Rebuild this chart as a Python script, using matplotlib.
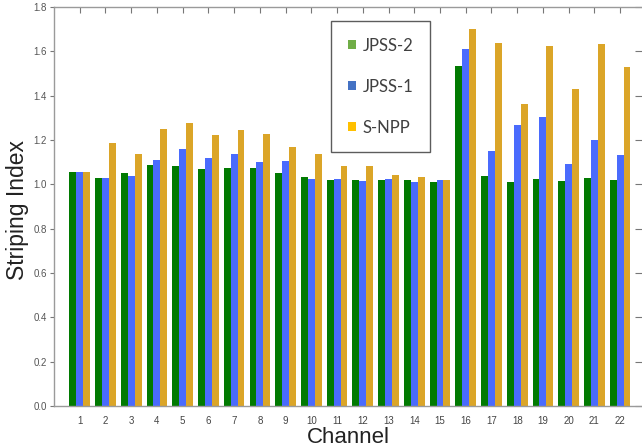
import matplotlib
matplotlib.use("Agg")
import matplotlib.pyplot as plt
from matplotlib.patches import Patch
from matplotlib import font_manager
import numpy as np

channels = list(range(1, 23))
jpss2 = [1.055, 1.028, 1.051, 1.086, 1.083, 1.069, 1.074, 1.072, 1.051, 1.033, 1.018,
         1.021, 1.018, 1.018, 1.010, 1.534, 1.036, 1.009, 1.024, 1.016, 1.030, 1.019]
jpss1 = [1.055, 1.028, 1.036, 1.111, 1.161, 1.117, 1.138, 1.099, 1.104, 1.023, 1.024,
         1.016, 1.024, 1.009, 1.018, 1.609, 1.150, 1.266, 1.302, 1.093, 1.200, 1.132]
snpp = [1.055, 1.188, 1.135, 1.248, 1.278, 1.221, 1.244, 1.227, 1.170, 1.137, 1.083,
        1.081, 1.042, 1.032, 1.018, 1.699, 1.639, 1.361, 1.622, 1.430, 1.631, 1.528]
series_names = ["JPSS-2", "JPSS-1", "S-NPP"]
yticks = [0.0, 0.2, 0.4, 0.6, 0.8, 1.0, 1.2, 1.4, 1.6, 1.8]

bar_colors = ["#017a01", "#4a6bfd", "#dba528"]
legend_colors = ["#70ad47", "#4472c4", "#ffc000"]

plt.rcParams["font.family"] = ["Liberation Sans", "DejaVu Sans"]

# narrow face for the legend, if available
installed = {f.name for f in font_manager.fontManager.ttflist}
legend_family = "Liberation Sans Narrow" if "Liberation Sans Narrow" in installed else "Lato"
legend_size = 12.5 if legend_family == "Liberation Sans Narrow" else 12

fig = plt.figure(figsize=(6.42, 4.48), dpi=100)
ax = fig.add_axes([54 / 642, 42 / 448, 588 / 642, 399 / 448])

x = np.array(channels, dtype=float)
w = 0.268
for i, (vals, c) in enumerate(zip([jpss2, jpss1, snpp], bar_colors)):
    ax.bar(x + (i - 1) * w, vals, width=w, color=c, edgecolor="none")

ax.set_xlim(0, 22.85)
ax.set_ylim(0, 1.8)
ax.set_yticks(yticks)
ax.set_yticklabels([f"{t:.1f}" for t in yticks])
ax.set_xticks(channels)
ax.set_xticklabels([str(c) for c in channels])

for s in ["left", "bottom", "top"]:
    ax.spines[s].set_color("#9a9a9a")
    ax.spines[s].set_linewidth(1.0)
ax.spines["right"].set_visible(False)

ax.tick_params(axis="y", which="both", direction="out", length=3, width=0.8,
               color="#777777", labelsize=7, labelcolor="#555555", pad=2,
               right=True)
ax.tick_params(axis="x", which="both", length=0, labelsize=7,
               labelcolor="#444444", pad=7)
# inward ticks along the top edge at each channel
ax.tick_params(axis="x", top=True, direction="in", length=4, width=0.8,
               color="#777777")
ax.tick_params(axis="x", bottom=False)
for t in ax.yaxis.get_ticklines()[1::2]:
    t.set_marker(0)
    t.set_markersize(5)

ax.set_xlabel("Channel", fontsize=16, color="#222222", labelpad=1)
ax.set_ylabel("Striping Index", fontsize=16.5, color="#222222")
ax.yaxis.set_label_coords(-0.043, 0.49)

handles = [Patch(facecolor=c, edgecolor="none") for c in legend_colors]
leg = ax.legend(handles, series_names, loc="upper left",
                bbox_to_anchor=(331 / 642, 1 - 21 / 448),
                bbox_transform=fig.transFigure, borderaxespad=0,
                prop={"family": legend_family, "size": legend_size},
                frameon=True, fancybox=False,
                handlelength=0.5, handleheight=0.5, handletextpad=0.4,
                labelspacing=1.5, borderpad=1.0)
leg.get_frame().set_edgecolor("#333333")
leg.get_frame().set_linewidth(1.0)
for txt in leg.get_texts():
    txt.set_color("#404040")

fig.savefig("out.png", dpi=100)
